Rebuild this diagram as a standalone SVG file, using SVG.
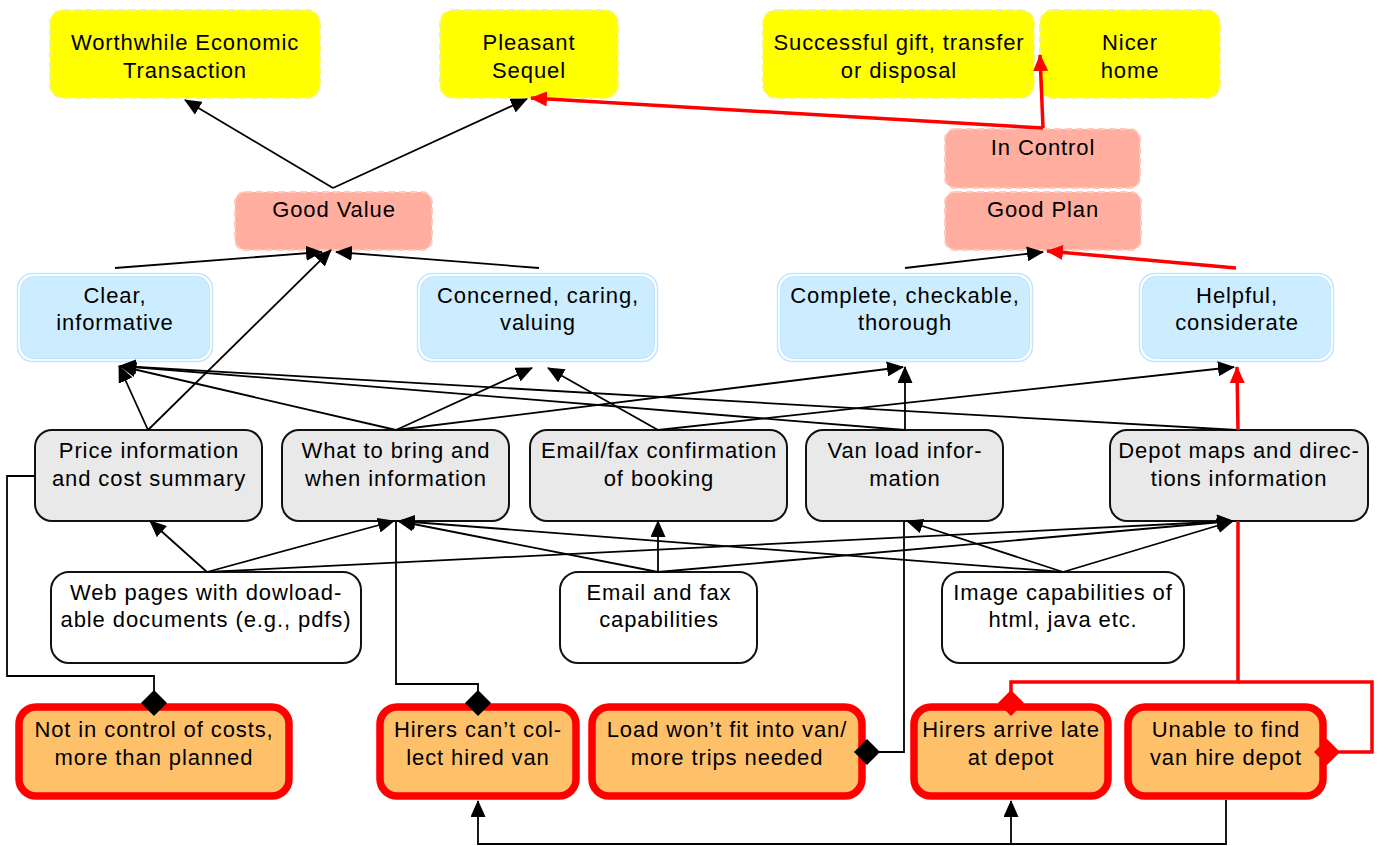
<svg xmlns="http://www.w3.org/2000/svg" width="1377" height="846" viewBox="0 0 1377 846">
<style>
text{font-family:"Liberation Sans",Arial,sans-serif;font-size:22px;letter-spacing:0.9px;text-anchor:middle;fill:#000}
.yel{fill:#FFFF00;stroke:#F4F48A;stroke-width:2;stroke-dasharray:7 4}
.pink{fill:#FFAE9F;stroke:#FFC9BF;stroke-width:2;stroke-dasharray:7 4}
.bout{fill:#fff;stroke:#C3E6FF;stroke-width:1.5}
.bin{fill:#CCECFF;stroke:#BEE3FC;stroke-width:1}
.gray{fill:#E9E9E9;stroke:#111;stroke-width:2}
.wht{fill:#fff;stroke:#111;stroke-width:2}
.org{fill:#FFC06A;stroke:#FF0000;stroke-width:7.5}
.c{fill:none;stroke:#000;stroke-width:1.8}
.r{fill:none;stroke:#FF0000;stroke-width:3.5}
.ca{marker-end:url(#ab)}
.ra{marker-end:url(#ar)}
.cd{marker-end:url(#db)}
.rd{marker-end:url(#dr)}
</style>
<defs>
<marker id="ab" viewBox="0 0 17 15" refX="16" refY="7.5" markerWidth="17" markerHeight="15" markerUnits="userSpaceOnUse" orient="auto"><path d="M0,0 L17,7.5 L0,15 z" fill="#000"/></marker>
<marker id="ar" viewBox="0 0 17 15" refX="16" refY="7.5" markerWidth="17" markerHeight="15" markerUnits="userSpaceOnUse" orient="auto"><path d="M0,0 L17,7.5 L0,15 z" fill="#FF0000"/></marker>
<marker id="db" viewBox="0 0 26 26" refX="13" refY="13" markerWidth="26" markerHeight="26" markerUnits="userSpaceOnUse" orient="auto"><path d="M0,13 L13,0 L26,13 L13,26 z" fill="#000"/></marker>
<marker id="dr" viewBox="0 0 26 26" refX="13" refY="13" markerWidth="26" markerHeight="26" markerUnits="userSpaceOnUse" orient="auto"><path d="M0,13 L13,0 L26,13 L13,26 z" fill="#FF0000"/></marker>
</defs>
<rect width="1377" height="846" fill="#fff"/>

<g id="worthwhile"><rect class="yel" x="50" y="10" width="270" height="88" rx="13"/><text x="185" y="50">Worthwhile Economic</text><text x="185" y="78">Transaction</text></g>
<g id="pleasant"><rect class="yel" x="440" y="10" width="178" height="88" rx="13"/><text x="529" y="50">Pleasant</text><text x="529" y="78">Sequel</text></g>
<g id="successful"><rect class="yel" x="763" y="10" width="271" height="88" rx="13"/><text x="899" y="50">Successful gift, transfer</text><text x="899" y="78">or disposal</text></g>
<g id="nicer"><rect class="yel" x="1040" y="10" width="180" height="88" rx="13"/><text x="1130" y="50">Nicer</text><text x="1130" y="78">home</text></g>

<g id="goodvalue"><rect class="pink" x="235" y="192" width="197" height="58" rx="10"/><text x="334" y="217">Good Value</text></g>
<g id="incontrol"><rect class="pink" x="945" y="129" width="195" height="59" rx="10"/><text x="1043" y="155">In Control</text></g>
<g id="goodplan"><rect class="pink" x="945" y="192" width="196" height="58" rx="10"/><text x="1043" y="217">Good Plan</text></g>

<g id="clear"><rect class="bout" x="17.5" y="273.5" width="195" height="88" rx="15"/><rect class="bin" x="20.5" y="276.5" width="189" height="82" rx="13"/><text x="115" y="303">Clear,</text><text x="115" y="330">informative</text></g>
<g id="concerned"><rect class="bout" x="417.5" y="273.5" width="240" height="88" rx="15"/><rect class="bin" x="420.5" y="276.5" width="234" height="82" rx="13"/><text x="538" y="303">Concerned, caring,</text><text x="538" y="330">valuing</text></g>
<g id="complete"><rect class="bout" x="777.5" y="273.5" width="255" height="88" rx="15"/><rect class="bin" x="780.5" y="276.5" width="249" height="82" rx="13"/><text x="905" y="303">Complete, checkable,</text><text x="905" y="330">thorough</text></g>
<g id="helpful"><rect class="bout" x="1139.5" y="273.5" width="194" height="88" rx="15"/><rect class="bin" x="1142.5" y="276.5" width="188" height="82" rx="13"/><text x="1237" y="303">Helpful,</text><text x="1237" y="330">considerate</text></g>

<g id="price"><rect class="gray" x="35" y="430" width="227" height="91" rx="17"/><text x="149" y="458">Price information</text><text x="149" y="486">and cost summary</text></g>
<g id="whattobring"><rect class="gray" x="282" y="430" width="227" height="91" rx="17"/><text x="396" y="458">What to bring and</text><text x="396" y="486">when information</text></g>
<g id="emailconf"><rect class="gray" x="530" y="430" width="257" height="91" rx="17"/><text x="659" y="458">Email/fax confirmation</text><text x="659" y="486">of booking</text></g>
<g id="vanload"><rect class="gray" x="806" y="430" width="197" height="91" rx="17"/><text x="905" y="458">Van load infor-</text><text x="905" y="486">mation</text></g>
<g id="depotmaps"><rect class="gray" x="1110" y="430" width="258" height="91" rx="17"/><text x="1239" y="458">Depot maps and direc-</text><text x="1239" y="486">tions information</text></g>

<g id="webpages"><rect class="wht" x="51" y="572" width="310" height="91" rx="18"/><text x="206" y="600">Web pages with dowload-</text><text x="206" y="627">able documents (e.g., pdfs)</text></g>
<g id="emailfax"><rect class="wht" x="560" y="572" width="197" height="91" rx="18"/><text x="659" y="600">Email and fax</text><text x="659" y="627">capabilities</text></g>
<g id="image"><rect class="wht" x="942" y="572" width="242" height="91" rx="18"/><text x="1063" y="600">Image capabilities of</text><text x="1063" y="627">html, java etc.</text></g>

<g id="notincontrol"><rect class="org" x="19" y="707" width="270" height="89" rx="17"/><text x="154" y="737">Not in control of costs,</text><text x="154" y="765">more than planned</text></g>
<g id="cantcollect"><rect class="org" x="380" y="707" width="196" height="89" rx="17"/><text x="478" y="737">Hirers can’t col-</text><text x="478" y="765">lect hired van</text></g>
<g id="loadwontfit"><rect class="org" x="592" y="707" width="270" height="89" rx="17"/><text x="727" y="737">Load won’t fit into van/</text><text x="727" y="765">more trips needed</text></g>
<g id="arrivelate"><rect class="org" x="914" y="707" width="194" height="89" rx="17"/><text x="1011" y="737">Hirers arrive late</text><text x="1011" y="765">at depot</text></g>
<g id="unabletofind"><rect class="org" x="1128" y="707" width="195" height="89" rx="17"/><text x="1226" y="737">Unable to find</text><text x="1226" y="765">van hire depot</text></g>

<g id="connectors">
<path class="c ca" d="M333,188 L185,100"/>
<path class="c ca" d="M333,188 L527,99"/>
<path class="r ra" d="M1043,128 L531,98"/>
<path class="r ra" d="M1043,128 L1040,55"/>
<path class="c ca" d="M115,268 L322,252"/>
<path class="c ca" d="M148,430 L331,250"/>
<path class="c ca" d="M539,268 L336,252"/>
<path class="c ca" d="M905,268 L1043,252"/>
<path class="r ra" d="M1236,268 L1047,251"/>
<path class="c ca" d="M148,430 L119,366"/>
<path class="c ca" d="M396,430 L120,366"/>
<path class="c ca" d="M905,430 L120,366"/>
<path class="c ca" d="M1237,430 L120,366"/>
<path class="c ca" d="M396,430 L532,368"/>
<path class="c ca" d="M658,430 L548,368"/>
<path class="c ca" d="M396,430 L903,367"/>
<path class="c ca" d="M905,430 L905,367"/>
<path class="c ca" d="M658,430 L1234,367"/>
<path class="r ra" d="M1238,430 L1237,367"/>
<path class="c ca" d="M207,572 L150,521"/>
<path class="c ca" d="M207,572 L394,521"/>
<path class="c ca" d="M207,572 L1233,521"/>
<path class="c ca" d="M658,572 L658,521"/>
<path class="c ca" d="M658,572 L398,521"/>
<path class="c ca" d="M658,572 L1233,521"/>
<path class="c ca" d="M1063,572 L399,521"/>
<path class="c ca" d="M1063,572 L907,521"/>
<path class="c ca" d="M1063,572 L1233,521"/>
<path class="c cd" d="M35,476 H7 V676 H154 V703"/>
<path class="c cd" d="M396,521 V684 H478 V703"/>
<path class="c cd" d="M904,521 V752 H867"/>
<path class="r rd" d="M1238,521 V682 H1011 V703"/>
<path class="r rd" d="M1238,682 H1372 V752 H1327"/>
<path class="c ca" d="M1226,800 V844 H478 V801"/>
<path class="c ca" d="M1011,844 V801"/>
</g>
</svg>
